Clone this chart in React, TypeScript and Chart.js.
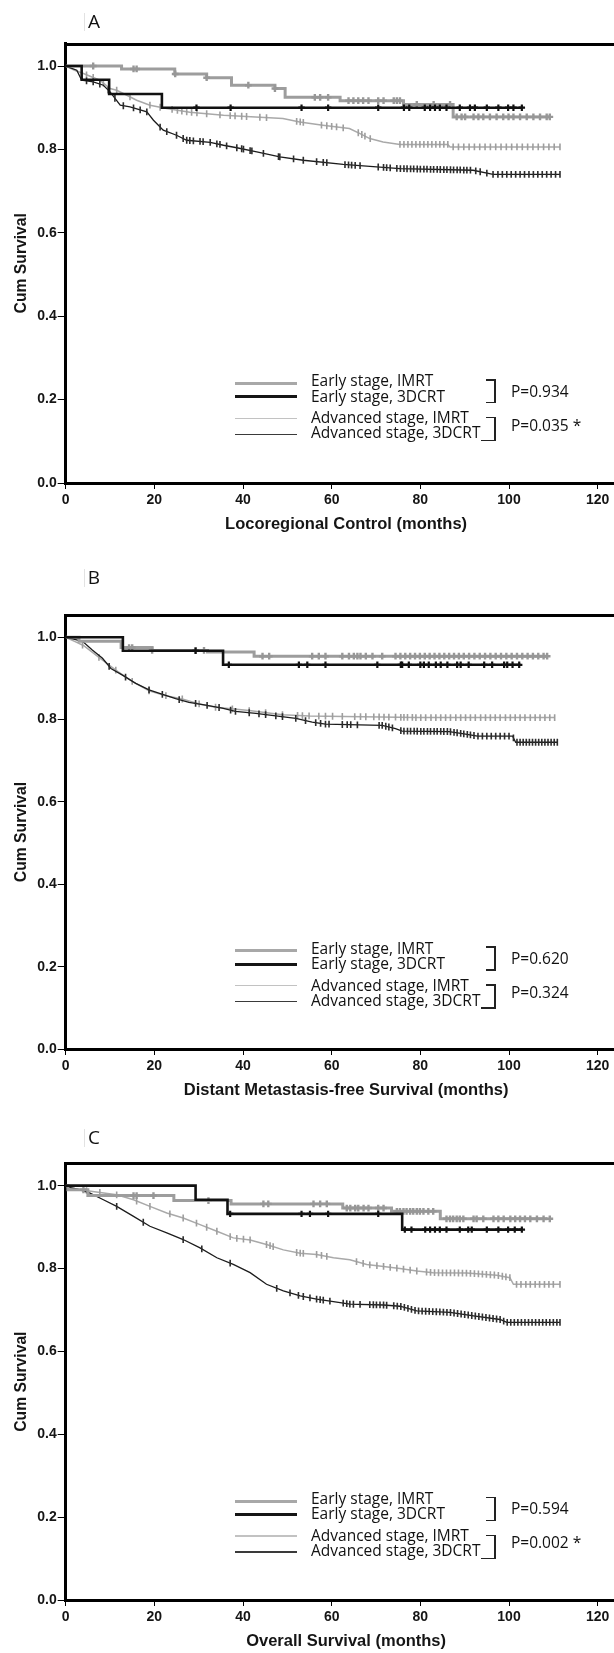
import React, { useEffect, useRef } from 'react';
import { Chart, registerables } from 'chart.js';

Chart.register(...registerables);

// ---------------- data ----------------
const xTicks = [0, 20, 40, 60, 80, 100, 120];
const yTicks = [0, 0.2, 0.4, 0.6, 0.8, 1.0];
const seriesNames = ['Early stage, IMRT', 'Early stage, 3DCRT', 'Advanced stage, IMRT', 'Advanced stage, 3DCRT'];

// Panel A – Locoregional control
const aEarlyImrtT = [0, 12.6, 24.6, 31.8, 37.4, 47.2, 49.5, 61.9, 76.2, 87.4, 109.2];
const aEarlyImrtS = [1, 0.993, 0.981, 0.972, 0.954, 0.946, 0.925, 0.917, 0.908, 0.878, 0.878];
const aEarlyImrtC = [6.2, 15.3, 16, 24.7, 31.8, 41.2, 47.2, 56.2, 57.4, 59.2, 63.8, 64.9, 66, 67.1, 68.3, 70.5, 71.7, 74, 74.7, 75.4, 79.2, 83, 86.7, 88.2, 89.3, 90.1, 92, 93.1, 94.2, 95.7, 97.2, 98.7, 99.9, 101, 102.5, 104, 105.5, 107, 108.5, 109.2];
const aEarly3dT = [0, 3.6, 9.8, 21.7, 103.2];
const aEarly3dS = [1, 0.967, 0.933, 0.9, 0.9];
const aEarly3dC = [29.5, 37.2, 53.2, 59.2, 70.5, 76.3, 77.5, 81, 82.2, 83.3, 84.4, 85.9, 88.9, 91.2, 92.3, 95, 97.6, 99.8, 101, 102.9];
const aAdvImrtT = [0, 2, 4, 7.7, 10, 11.5, 13.8, 16, 19, 22.8, 28, 35.6, 49, 52.8, 58, 64, 66.4, 68.6, 71.6, 75.4, 86.2, 86.7, 111.5];
const aAdvImrtS = [1, 0.99, 0.982, 0.966, 0.946, 0.942, 0.93, 0.918, 0.906, 0.898, 0.889, 0.882, 0.874, 0.866, 0.858, 0.85, 0.838, 0.826, 0.818, 0.812, 0.812, 0.806, 0.806];
const aAdvImrtC = [4.7, 6.2, 8.5, 11.5, 14.5, 19, 21.3, 24, 25.2, 26.2, 27.3, 28.4, 29.6, 31.8, 34.8, 37.1, 38.2, 39.7, 40.8, 43.8, 45.3, 52.1, 52.9, 53.6, 57.7, 58.9, 60, 61.1, 62.6, 66, 66.8, 67.5, 68.7, 75.4, 76.3, 77.2, 78.1, 79, 79.9, 80.8, 81.7, 82.6, 83.5, 84.4, 85.3, 86.2, 87.4, 88.6, 89.8, 91, 92.2, 93.4, 94.6, 95.8, 97, 98.2, 99.4, 100.6, 101.8, 103, 104.2, 105.4, 106.6, 107.8, 109, 110.2, 111.5];
const aAdv3dT = [0, 2.5, 3.6, 6.2, 8.5, 10, 12.3, 14.5, 18.3, 19.8, 22, 25, 27.3, 32.6, 35.6, 38.6, 43.1, 48.3, 53.6, 62.6, 75.4, 91.9, 96.4, 111.5];
const aAdv3dS = [1, 0.99, 0.966, 0.962, 0.954, 0.938, 0.906, 0.902, 0.89, 0.87, 0.846, 0.834, 0.822, 0.817, 0.81, 0.804, 0.794, 0.782, 0.774, 0.764, 0.754, 0.75, 0.74, 0.74];
const aAdv3dC = [4.7, 6.2, 7.7, 9.6, 11.1, 13, 15.3, 16.8, 18.3, 21.3, 22.8, 25, 26.5, 27.3, 28, 28.8, 30.3, 31, 32.6, 34.1, 34.8, 36.3, 38.6, 39.7, 40.1, 41.6, 42, 44.6, 48, 48.3, 51.4, 53.6, 56.6, 58.1, 58.9, 63, 63.8, 64.5, 65.3, 66.4, 70.5, 71.7, 72.4, 73.2, 74.7, 75.5, 76.3, 77, 77.8, 78.5, 79.3, 80, 80.8, 81.5, 82.3, 83, 83.8, 84.5, 85.3, 86, 86.8, 87.5, 88.3, 89, 89.8, 90.5, 91.3, 92.5, 93.5, 95, 96.4, 97.5, 98.5, 99.5, 100.5, 101.5, 102.5, 103.5, 104.5, 105.5, 106.5, 107.5, 108.5, 109.5, 110.5, 111.5];

// Panel B – Distant metastasis-free survival
const bEarlyImrtT = [0, 3, 12.5, 19.5, 32, 42.5, 108.6];
const bEarlyImrtS = [1, 0.99, 0.975, 0.968, 0.964, 0.954, 0.954];
const bEarlyImrtC = [14.3, 15, 19.5, 29.3, 31.2, 44.4, 45.9, 55.6, 57.1, 58.6, 62.4, 63.9, 65, 65.8, 66.5, 67.7, 69.2, 71.4, 74.4, 75.5, 76.6, 77.7, 78.8, 79.9, 81, 82.1, 83.2, 84.3, 85.4, 86.5, 87.6, 88.7, 89.8, 91, 92.2, 93.4, 94.6, 95.8, 97, 98.2, 99.4, 100.6, 101.8, 103, 104.2, 105.4, 106.6, 107.8, 108.6];
const bEarly3dT = [0, 12.9, 35.5, 102.6];
const bEarly3dS = [1, 0.967, 0.933, 0.933];
const bEarly3dC = [29.3, 36.8, 52.6, 54.5, 58.6, 70.3, 75.6, 75.9, 77.4, 80, 80.8, 81.9, 83.5, 84.6, 86.1, 88.3, 89.1, 90.9, 94.4, 96.2, 98.9, 99.6, 100.8, 102.3];
const bAdvImrtT = [0, 2, 4, 7.5, 11.3, 15, 18.8, 22.6, 26.3, 30.1, 33.8, 41.4, 48.9, 54.9, 79, 110.3];
const bAdvImrtS = [1, 0.99, 0.98, 0.951, 0.92, 0.893, 0.87, 0.858, 0.85, 0.838, 0.83, 0.822, 0.812, 0.809, 0.805, 0.805];
const bAdvImrtC = [3.8, 7.5, 11.3, 15, 18.8, 22.6, 26.3, 30.1, 33.8, 37.6, 41.4, 45.1, 48.9, 52.3, 53.4, 54.9, 57.1, 58.6, 60.2, 62.4, 65.2, 66.5, 67.7, 69.5, 70.7, 71.8, 72.9, 74.4, 75.6, 76.3, 77.1, 78.2, 79, 80.1, 81.2, 82.4, 83.5, 84.6, 85.7, 86.8, 88, 89.1, 90.2, 91.3, 92.4, 93.6, 94.7, 95.8, 96.9, 98, 99.2, 100.3, 101.4, 102.5, 103.6, 104.8, 105.9, 107, 108.1, 109.2, 110.3];
const bAdv3dT = [0, 3.8, 6, 8.3, 10.2, 12.8, 15.8, 18.8, 21, 24.8, 27.8, 31.6, 35.3, 38.3, 42.9, 47.4, 51.9, 55.6, 58.6, 71.4, 74.4, 75.9, 86.5, 89.5, 92.9, 100.8, 101.5, 110.9];
const bAdv3dS = [1, 0.99, 0.969, 0.949, 0.924, 0.908, 0.888, 0.872, 0.864, 0.851, 0.842, 0.835, 0.828, 0.82, 0.815, 0.809, 0.803, 0.794, 0.789, 0.786, 0.778, 0.772, 0.771, 0.766, 0.76, 0.76, 0.745, 0.745];
const bAdv3dC = [9.8, 13.5, 18.8, 21.8, 25.6, 29.3, 31.9, 34.6, 37.2, 38.3, 41.4, 43.6, 45.1, 47.4, 48.9, 51.9, 54.1, 56.4, 57.5, 58.6, 59.4, 62.4, 63.5, 64.3, 65.8, 70.7, 71.4, 72.2, 72.9, 73.7, 75.6, 76.3, 77.1, 77.8, 78.6, 79.3, 80.1, 80.8, 81.6, 82.3, 83.1, 83.8, 84.6, 85.3, 86.1, 86.8, 87.6, 88.3, 89.1, 89.8, 90.6, 91.3, 92.1, 93, 94, 95, 96, 97, 98, 99, 100, 101, 101.8, 102.5, 103.2, 103.9, 104.6, 105.3, 106, 106.7, 107.4, 108.1, 108.8, 109.5, 110.2, 110.9];

// Panel C – Overall survival
const cEarlyImrtT = [0, 0.5, 5, 24.4, 37.3, 62.5, 73.5, 84.5, 108.7];
const cEarlyImrtS = [1, 0.99, 0.976, 0.964, 0.956, 0.946, 0.938, 0.92, 0.92];
const cEarlyImrtC = [4, 15.3, 16, 19.8, 32.2, 44.6, 45.7, 55.9, 57.4, 58.9, 63.4, 64.2, 65.3, 66, 67.2, 68.3, 70.5, 71.7, 74.7, 75.4, 76.2, 76.9, 77.7, 78.4, 79.2, 79.9, 80.7, 81.8, 82.9, 85.9, 86.7, 87.4, 88.2, 88.9, 89.7, 92, 92.7, 94.2, 96.5, 97.6, 98.8, 100.3, 101.4, 102.5, 103.6, 104.8, 106.3, 107.8, 109.2];
const cEarly3dT = [0, 29.3, 36.5, 75.9, 103.1];
const cEarly3dS = [1, 0.966, 0.932, 0.894, 0.894];
const cEarly3dC = [37.1, 53.2, 55.1, 59.2, 70.5, 76.5, 78, 81.1, 82.2, 83.3, 84.4, 85.9, 88.9, 90.8, 91.6, 95, 97.6, 99.8, 101.3, 102.9];
const cAdvImrtT = [0, 1, 4, 11.5, 15.3, 19, 22.8, 26.5, 30.3, 34.1, 37.8, 41.6, 45.3, 49.1, 52.9, 56.6, 60.4, 64.1, 67.9, 71.7, 75.4, 79.2, 82.9, 90.5, 97.2, 100.2, 101, 111.5];
const cAdvImrtS = [1, 0.995, 0.989, 0.978, 0.966, 0.95, 0.934, 0.922, 0.906, 0.89, 0.874, 0.869, 0.858, 0.845, 0.837, 0.834, 0.826, 0.821, 0.81, 0.805, 0.8, 0.794, 0.79, 0.789, 0.784, 0.778, 0.762, 0.762];
const cAdvImrtC = [4.7, 7.7, 11.5, 16, 19, 23.5, 26.5, 29.5, 31.8, 34.1, 37.1, 38.6, 40.1, 41.6, 45.3, 46.1, 46.8, 52.1, 52.9, 53.6, 56.6, 57.7, 58.9, 65.6, 67.1, 68.6, 70.2, 71.7, 73.2, 74.7, 76.2, 77.7, 79.2, 81.4, 82.3, 83.2, 84.1, 85, 85.9, 86.8, 87.7, 88.6, 89.5, 90.4, 91.3, 92.2, 93.1, 94, 94.9, 95.8, 96.7, 97.6, 98.5, 99.3, 100.2, 101.7, 102.7, 103.8, 104.8, 105.9, 106.9, 108, 109, 110, 111.5];
const cAdv3dT = [0, 1, 2.5, 5.5, 8.5, 11.5, 15.3, 19, 22.8, 26.5, 30.3, 34.1, 37.8, 41.6, 45.3, 49.1, 52.9, 56.6, 60.4, 64.1, 71.7, 75.4, 79.2, 86.7, 92, 98, 99.5, 111.5];
const cAdv3dS = [1, 0.995, 0.992, 0.982, 0.966, 0.95, 0.926, 0.902, 0.886, 0.87, 0.85, 0.826, 0.81, 0.79, 0.762, 0.746, 0.734, 0.726, 0.72, 0.714, 0.712, 0.709, 0.698, 0.694, 0.686, 0.677, 0.67, 0.67];
const cAdv3dC = [11.5, 17.5, 26.5, 30.7, 37.1, 47.6, 50.6, 52.5, 53.6, 55.1, 56.6, 57.4, 58.1, 59.6, 62.6, 63.4, 64.1, 64.9, 66.4, 68.6, 69.4, 70.1, 70.9, 71.7, 72.4, 74, 74.8, 75.6, 76.4, 77.2, 78, 78.8, 79.6, 80.4, 81.2, 82, 82.8, 83.6, 84.4, 85.2, 86, 86.8, 87.6, 88.4, 89.2, 90, 90.8, 91.6, 92.4, 93.2, 94, 94.8, 95.6, 96.4, 97.2, 98, 98.8, 99.6, 100.4, 101.2, 102, 102.8, 103.6, 104.4, 105.2, 106, 106.8, 107.6, 108.4, 109.2, 110, 110.8, 111.5];

// ---------------- styles / layout ----------------
const AX_FONT = '"Liberation Sans", Arial, Helvetica, sans-serif';
const LEG_FONT = '"Open Sans", "Noto Sans", sans-serif';

// early-stage curves: few large steps (step function); advanced-stage curves: many tiny steps (read as a trace)
const seriesStyles = [
  { color: '#9d9d9d', width: 3, mark: '#979797', markStyle: 'cross', markR: 3.4, markW: 2.4, order: 2, stepped: true },
  { color: '#111111', width: 2.6, mark: '#111111', markStyle: 'cross', markR: 3.2, markW: 2.2, order: 0, stepped: true },
  { color: '#a9a9a9', width: 1.5, mark: '#9e9e9e', markStyle: 'line', markR: 3.4, markW: 1.6, order: 6, stepped: false },
  { color: '#1c1c1c', width: 1.3, mark: '#2c2c2c', markStyle: 'line', markR: 3.4, markW: 1.6, order: 4, stepped: false },
];

const legendStyles = [
  { color: '#a8a8a8', h: 3 },
  { color: '#151515', h: 3 },
  { color: '#c2c2c2', h: 1.5 },
  { color: '#3a3a3a', h: 1.5 },
];

const Y_MAX = 1.054;
const X_MAX = 126.5;
const CANVAS_W = 700;
const X_AXIS_H = 62;

const panels = [
  {
    letter: 'A', top: 0, areaTop: 43.5, areaBottom: 482.7, letterY: 21.7,
    xTitle: 'Locoregional Control (months)', p1: 'P=0.934', p2: 'P=0.035 *',
    t: [aEarlyImrtT, aEarly3dT, aAdvImrtT, aAdv3dT],
    s: [aEarlyImrtS, aEarly3dS, aAdvImrtS, aAdv3dS],
    c: [aEarlyImrtC, aEarly3dC, aAdvImrtC, aAdv3dC],
  },
  {
    letter: 'B', top: 560, areaTop: 55, areaBottom: 489, letterY: 578.3,
    xTitle: 'Distant Metastasis-free Survival (months)', p1: 'P=0.620', p2: 'P=0.324',
    t: [bEarlyImrtT, bEarly3dT, bAdvImrtT, bAdv3dT],
    s: [bEarlyImrtS, bEarly3dS, bAdvImrtS, bAdv3dS],
    c: [bEarlyImrtC, bEarly3dC, bAdvImrtC, bAdv3dC],
  },
  {
    letter: 'C', top: 1110, areaTop: 53.3, areaBottom: 490, letterY: 1138.3,
    xTitle: 'Overall Survival (months)', p1: 'P=0.594', p2: 'P=0.002 *',
    t: [cEarlyImrtT, cEarly3dT, cAdvImrtT, cAdv3dT],
    s: [cEarlyImrtS, cEarly3dS, cAdvImrtS, cAdv3dS],
    c: [cEarlyImrtC, cEarly3dC, cAdvImrtC, cAdv3dC],
  },
];

// value of the drawn curve at time x (step or trace, matching how the line is drawn)
function curveAt(t: number[], s: number[], x: number, stepped: boolean) {
  if (x <= t[0]) return s[0];
  for (let i = 1; i < t.length; i++) {
    if (x < t[i]) {
      if (stepped) return s[i - 1];
      const f = (x - t[i - 1]) / (t[i] - t[i - 1]);
      return s[i - 1] + f * (s[i] - s[i - 1]);
    }
  }
  return s[s.length - 1];
}

function buildDatasets(p: any) {
  const ds: any[] = [];
  for (let k = 0; k < 4; k++) {
    const st = seriesStyles[k];
    ds.push({
      label: seriesNames[k],
      data: p.t[k].map((x: number, i: number) => ({ x, y: p.s[k][i] })),
      borderColor: st.color,
      borderWidth: st.width,
      stepped: st.stepped ? 'before' : false,
      tension: 0,
      pointRadius: 0,
      fill: false,
      order: st.order + 1,
    });
    ds.push({
      label: seriesNames[k] + ' censored',
      data: p.c[k].map((x: number) => ({ x, y: curveAt(p.t[k], p.s[k], x, st.stepped) })),
      showLine: false,
      pointStyle: st.markStyle,
      pointRotation: st.markStyle === 'line' ? 90 : 0,
      pointRadius: st.markR,
      pointBorderWidth: st.markW,
      pointBorderColor: st.mark,
      pointBackgroundColor: st.mark,
      order: st.order,
    });
  }
  return ds;
}

const topBorder = {
  id: 'topBorder',
  afterDraw(chart: any) {
    const { ctx, chartArea } = chart;
    ctx.save();
    ctx.strokeStyle = '#000';
    ctx.lineWidth = 3;
    ctx.beginPath();
    const y = Math.round(chartArea.top) + 0.5;
    ctx.moveTo(chartArea.left - 1.5, y);
    ctx.lineTo(chart.width, y);
    ctx.stroke();
    ctx.restore();
  },
};

function Panel({ p }: { p: any }) {
  const ref = useRef<HTMLCanvasElement>(null);
  const H = Math.round(p.areaBottom + X_AXIS_H);
  useEffect(() => {
    if (!ref.current) return;
    const tickFont = { family: AX_FONT, size: 14, weight: 'bold' as const };
    const chart = new Chart(ref.current, {
      type: 'line',
      data: { datasets: buildDatasets(p) },
      options: {
        animation: false,
        responsive: false,
        devicePixelRatio: 1,
        layout: { padding: { top: p.areaTop, right: CANVAS_W - 65.7 - X_MAX * 4.433, bottom: 0, left: 0 } },
        plugins: { legend: { display: false }, tooltip: { enabled: false } },
        scales: {
          x: {
            type: 'linear',
            min: 0,
            max: X_MAX,
            afterFit: (s: any) => { s.height = X_AXIS_H; },
            afterBuildTicks: (s: any) => { s.ticks = xTicks.map((v) => ({ value: v })); },
            ticks: { font: tickFont, color: '#151515', padding: 3, autoSkip: false, maxRotation: 0, callback: (v: any) => String(v) },
            grid: { drawOnChartArea: false, drawTicks: true, tickLength: 6, tickColor: '#000', tickWidth: 1 },
            border: { display: true, color: '#000', width: 3 },
            title: { display: true, text: p.xTitle, color: '#151515', font: { family: AX_FONT, size: 16.5, weight: 'bold' }, padding: { top: 0, bottom: 10.5 } },
          },
          y: {
            type: 'linear',
            min: 0,
            max: Y_MAX,
            afterFit: (s: any) => { s.width = 65.7; },
            afterBuildTicks: (s: any) => { s.ticks = yTicks.map((v) => ({ value: v })); },
            ticks: { font: tickFont, color: '#151515', padding: 1, autoSkip: false, callback: (v: any) => Number(v).toFixed(1) },
            grid: { drawOnChartArea: false, drawTicks: true, tickLength: 8, tickColor: '#000', tickWidth: 1 },
            border: { display: true, color: '#000', width: 3 },
            title: { display: true, text: 'Cum Survival', color: '#151515', font: { family: AX_FONT, size: 15.7, weight: 'bold' }, padding: { top: 12, bottom: 0 } },
          },
        },
      } as any,
      plugins: [topBorder],
    });
    return () => chart.destroy();
  }, []);
  return (
    <canvas
      ref={ref}
      width={CANVAS_W}
      height={H}
      style={{ position: 'absolute', left: 0, top: p.top, width: CANVAS_W, height: H }}
    />
  );
}

function Legend({ p }: { p: any }) {
  const y02 = p.top + p.areaBottom - (0.2 * (p.areaBottom - p.areaTop)) / Y_MAX;
  const textOff = [-17.1, -1.7, 19.9, 34.9];
  const lineOff = [-16.1, -2.4, 18.9, 34.9];
  const txt = (x: number, cy: number, s: string, key: string) => (
    <div
      key={key}
      style={{
        position: 'absolute', left: x, top: cy - 11, whiteSpace: 'nowrap',
        fontFamily: LEG_FONT, fontSize: '15.5px', lineHeight: '18px', color: '#111',
      }}
    >{s}</div>
  );
  const bracket = (y1: number, y2: number, xLeftBottom: number, key: string) => (
    <div key={key}>
      <div style={{ position: 'absolute', left: 486, top: y1 - 0.75, width: 9.5, height: 1.5, background: '#222' }} />
      <div style={{ position: 'absolute', left: 494, top: y1 - 0.75, width: 1.5, height: y2 - y1 + 1.5, background: '#222' }} />
      <div style={{ position: 'absolute', left: xLeftBottom, top: y2 - 0.75, width: 495.5 - xLeftBottom, height: 1.5, background: '#222' }} />
    </div>
  );
  return (
    <>
      {seriesNames.map((n, k) => (
        <div key={'l' + k} style={{
          position: 'absolute', left: 235, width: 61.5, top: y02 + lineOff[k] - legendStyles[k].h / 2,
          height: legendStyles[k].h, background: legendStyles[k].color,
        }} />
      ))}
      {seriesNames.map((n, k) => txt(311, y02 + textOff[k], n, 't' + k))}
      {bracket(y02 - 19.4, y02 + 3.3, 486, 'b1')}
      {bracket(y02 + 18.3, y02 + 41.3, 481, 'b2')}
      {txt(511, y02 - 6.7, p.p1, 'p1')}
      {txt(511, y02 + 27.3, p.p2, 'p2')}
      <div style={{ position: 'absolute', left: 83.5, top: p.letterY - 9, width: 1, height: 18, background: '#e2e2e2' }} />
      <div style={{
        position: 'absolute', left: 86, top: p.letterY - 13, width: 16, textAlign: 'center',
        fontFamily: LEG_FONT, fontSize: '19px', lineHeight: '24px', color: '#111',
      }}>{p.letter}</div>
    </>
  );
}

export default function App() {
  return (
    <div style={{ position: 'absolute', left: 0, top: 0, width: 614, height: 1653, overflow: 'hidden', background: '#fff' }}>
      {panels.map((p) => (
        <Panel key={p.letter} p={p} />
      ))}
      {panels.map((p) => (
        <Legend key={'lg' + p.letter} p={p} />
      ))}
    </div>
  );
}
